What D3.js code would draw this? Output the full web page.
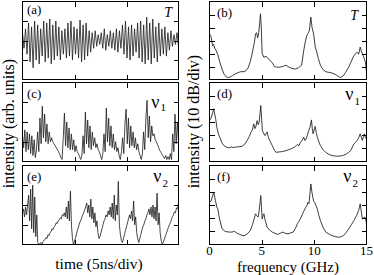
<!DOCTYPE html>
<html><head><meta charset="utf-8">
<script src="https://cdn.jsdelivr.net/npm/d3@7"></script>
<style>
body{margin:0;background:#fff}
svg{display:block}
text{font-family:"Liberation Serif","Times New Roman",serif;fill:#000}
</style>
</head><body><svg id="c" width="374" height="275"></svg>
<script>
// ---------- data ----------
const timeTicks = [5, 10];            // ns (5 ns / div)
const freqTicks = [0, 5, 10, 15];     // GHz
const freqInnerTicks = [5, 10];
const timeDivTicks = [1, 2, 3];       // arb. units divisions
const dbDivTicks = [1, 2, 3, 4, 5];   // 10 dB divisions

const seriesT = [
2.4,1.6,2.6,1.3,2.9,0.9,2.7,0.6,3.0,1.0,2.8,0.8,2.6,1.2,3.0,0.9,2.9,1.1,3.1,0.8,
2.8,1.0,3.0,1.2,2.7,1.0,2.5,1.3,2.6,1.1,2.9,1.2,3.0,1.0,2.7,1.3,2.6,1.1,3.05,0.9,
2.8,1.0,2.9,1.2,2.5,1.4,2.4,1.6,2.5,1.7,2.3,1.8,2.4,1.6,2.6,1.5,2.3,1.7,2.5,1.6,
2.4,1.5,2.6,1.4,2.5,1.6,2.8,1.3,3.0,1.1,2.7,1.0,2.8,1.2,2.6,1.4,2.9,1.1,3.0,0.9,
2.8,0.8,3.2,1.0,2.9,0.8,3.1,1.1,2.7,0.9,2.9,1.2,2.6,1.3,2.7,1.2,2.4,1.5,2.5,1.7,
2.3,1.8,2.4,1.7];

const seriesNu1 = [
1.3,0.7,1.6,0.5,1.5,0.6,1.4,0.4,1.3,0.3,1.1,0.2,0.6,
1.5,0.5,2.2,0.9,2.8,1.2,2.4,1.0,1.9,0.9,1.5,1.0,1.2,1.0,0.9,0.8,0.7,0.6,0.5,0.35,0.2,0.1,
1.2,2.45,0.8,2.0,0.7,1.7,0.6,1.4,0.6,1.1,0.5,0.8,0.5,0.4,0.25,0.1,0.3,
1.3,0.4,2.5,0.9,2.1,0.7,1.8,0.6,1.5,0.8,1.2,0.7,0.9,0.6,0.5,0.3,0.1,0.4,
1.4,0.5,2.7,1.0,2.2,0.8,1.8,0.7,1.4,0.6,1.0,0.5,0.7,0.3,0.1,0.5,
1.2,0.4,1.9,2.65,0.9,2.2,0.7,1.8,0.8,1.5,0.7,1.2,0.6,0.9,0.5,0.3,0.1,0.4,
1.5,0.6,2.2,3.1,1.2,2.3,1.0,1.8,1.3,1.4,1.1,1.0,0.85,0.7,0.55,0.45,0.35,0.25,0.15,0.3,0.1,0.25,0.1,0.4,0.1,
1.4,0.5,2.4,0.9,2.0,1.0];

const seriesNu2 = [
1.6,1.8,1.4,1.9,1.5,2.0,
2.5,1.2,2.8,0.8,3.0,0.6,2.4,0.4,1.5,0.1,0.0,
0.05,0.1,0.0,0.15,0.2,
0.25,0.35,0.3,0.5,0.45,0.6,0.65,0.8,0.75,0.9,0.95,1.1,1.05,1.2,1.25,1.35,1.3,1.5,1.45,
1.6,1.4,1.9,1.3,2.2,1.2,2.7,1.0,
0.3,0.0,
0.15,0.35,0.55,0.75,0.9,1.1,1.2,1.35,1.5,1.6,1.75,1.9,
2.1,1.6,2.0,1.4,2.3,1.3,1.9,1.1,1.6,0.9,1.2,0.6,0.3,
0.4,0.6,0.8,1.0,1.2,1.3,1.5,1.4,1.7,1.5,1.9,1.4,2.1,1.3,2.5,1.2,2.0,1.5,3.2,1.0,0.5,0.2,0.1,
0.3,0.5,0.7,0.9,1.1,1.3,1.5,1.3,1.7,1.2,2.2,1.0,1.4,0.6,0.3,0.1,
0.3,0.5,0.7,0.9,1.0,1.2,1.3,1.5,1.6,1.8,1.5,1.9,
1.4,2.0,1.3,1.9,1.2,2.6,1.0,1.6,0.6,0.2,0.0,
0.1,0.25,0.4,0.55,0.7,0.85,1.0,1.1,1.25,1.4,1.5,1.65,1.6,1.85,1.8,2.1];

const specT = [[0,3.5],[0.15,3.3],[0.3,2.6],[0.4,2.7],[0.5,2.4],[0.65,2.2],[0.8,1.9],[1.0,1.3],[1.2,0.8],[1.4,0.4],[1.6,0.2],[1.8,0.15],[2.0,0.2],[2.2,0.3],[2.5,0.45],[2.8,0.55],[3.0,0.6],[3.3,0.6],[3.5,0.7],[3.7,0.9],[3.9,1.4],[4.05,1.9],[4.2,2.5],[4.3,2.9],[4.4,3.5],[4.5,3.6],[4.6,3.2],[4.7,3.6],[4.8,4.4],[4.87,5.05],[4.95,4.0],[5.03,2.0],[5.2,1.7],[5.4,1.8],[5.6,1.6],[5.8,1.45],[6.0,1.3],[6.2,1.0],[6.4,0.95],[6.7,0.95],[7.0,1.0],[7.3,1.1],[7.6,0.95],[7.9,0.85],[8.2,0.8],[8.5,0.9],[8.8,1.1],[9.0,2.2],[9.15,2.9],[9.3,3.4],[9.45,3.6],[9.55,3.8],[9.68,4.8],[9.8,4.0],[9.95,3.5],[10.1,2.5],[10.25,2.1],[10.4,1.6],[10.6,1.1],[10.8,0.8],[11.1,0.6],[11.4,0.55],[11.7,0.5],[12.0,0.4],[12.2,0.3],[12.5,0.15],[12.8,0.3],[13.0,0.55],[13.3,0.95],[13.6,1.5],[13.8,1.85],[14.0,2.0],[14.1,2.1],[14.25,1.95],[14.4,2.5],[14.5,2.2],[14.7,1.8],[14.9,1.33],[15.0,0.56]];

const specNu1 = [[0,3.1],[0.15,3.3],[0.3,3.7],[0.4,4.0],[0.5,3.6],[0.6,3.2],[0.7,2.6],[0.85,2.1],[1.05,1.7],[1.2,1.4],[1.4,1.2],[1.6,1.1],[1.85,1.04],[2.1,1.1],[2.3,1.05],[2.5,1.1],[2.8,1.12],[3.1,1.15],[3.35,1.3],[3.6,1.6],[3.8,1.9],[3.95,2.2],[4.1,2.4],[4.23,2.86],[4.35,2.5],[4.45,2.7],[4.55,3.1],[4.65,2.8],[4.75,3.0],[4.9,4.25],[5.0,3.0],[5.05,2.35],[5.2,2.1],[5.3,1.97],[5.4,2.1],[5.5,2.25],[5.6,1.9],[5.75,1.6],[6.0,1.2],[6.2,0.85],[6.35,0.7],[6.6,0.72],[6.9,0.75],[7.2,0.8],[7.6,0.9],[7.9,1.0],[8.2,1.14],[8.4,1.3],[8.55,1.2],[8.7,1.47],[8.85,1.6],[9.0,1.85],[9.1,1.6],[9.2,1.65],[9.35,2.0],[9.48,2.35],[9.6,2.6],[9.74,3.16],[9.82,2.5],[9.9,2.1],[10.0,2.4],[10.1,2.66],[10.2,2.2],[10.3,1.85],[10.45,1.5],[10.6,1.2],[10.85,0.9],[11.1,0.7],[11.4,0.55],[11.7,0.45],[12.0,0.42],[12.35,0.4],[12.7,0.45],[13.0,0.53],[13.3,0.7],[13.5,0.84],[13.65,1.1],[13.8,1.34],[13.95,1.45],[14.1,1.6],[14.25,1.8],[14.4,2.1],[14.5,1.85],[14.6,1.6],[14.7,1.9],[14.8,2.1],[14.9,1.8],[15.0,1.72]];

const specNu2 = [[0,3.2],[0.15,3.3],[0.3,3.7],[0.4,3.97],[0.5,3.6],[0.57,3.34],[0.7,2.83],[0.8,2.7],[0.9,2.2],[1.0,1.82],[1.2,1.19],[1.5,0.99],[1.8,0.95],[2.1,0.94],[2.4,0.99],[2.65,0.85],[2.9,0.76],[3.1,0.7],[3.3,0.66],[3.6,0.8],[3.9,1.06],[4.1,1.5],[4.25,1.9],[4.4,2.33],[4.5,2.2],[4.65,2.08],[4.75,2.6],[4.9,3.72],[4.97,2.8],[5.03,1.95],[5.12,2.2],[5.2,2.33],[5.3,1.9],[5.5,1.32],[5.75,1.1],[6.0,0.94],[6.25,0.85],[6.5,0.76],[6.75,0.85],[7.0,0.94],[7.25,0.85],[7.5,0.81],[7.75,0.88],[8.0,0.94],[8.2,1.2],[8.4,1.57],[8.65,1.9],[8.9,2.33],[9.05,2.6],[9.2,2.83],[9.3,2.95],[9.4,3.2],[9.5,3.1],[9.6,3.9],[9.68,4.6],[9.78,4.0],[9.87,3.6],[9.95,3.3],[10.05,3.2],[10.15,3.0],[10.3,2.7],[10.45,2.2],[10.6,1.82],[10.85,1.3],[11.1,0.94],[11.4,0.8],[11.7,0.68],[12.0,0.6],[12.35,0.55],[12.6,0.6],[12.8,0.68],[13.05,0.9],[13.3,1.19],[13.55,1.5],[13.8,1.82],[14.05,2.2],[14.25,2.58],[14.4,3.09],[14.5,2.5],[14.6,1.95],[14.75,2.05],[14.85,2.08],[14.95,1.8],[15.0,1.57]];

const panelLetters = ["(a)", "(b)", "(c)", "(d)", "(e)", "(f)"];
const variableNames = ["T", "ν", "ν"];
const variableSubs = ["", "1", "2"];

// ---------- layout ----------
const svg = d3.select("#c");
const LX = [22.5, 178.5], RX = [209.5, 366.5];
const rows = [[1.5, 79.5], [82.5, 161.5], [165.5, 244.5]];
const timeSeries = [seriesT, seriesNu1, seriesNu2];
const spectra = [specT, specNu1, specNu2];

function frame(g, x0, x1, y0, y1) {
  g.append("rect").attr("x", x0).attr("y", y0).attr("width", x1 - x0).attr("height", y1 - y0)
    .attr("fill", "none").attr("stroke", "#000").attr("stroke-width", 1).attr("shape-rendering", "crispEdges");
}
function axes(g, x, y, xt, yt, y0, y1, x0, x1) {
  const style = s => { s.select(".domain").remove(); s.selectAll("text").remove();
    s.selectAll("line").attr("stroke", "#000").attr("shape-rendering", "crispEdges"); };
  g.append("g").attr("transform", `translate(0,${y1})`).call(d3.axisBottom(x).tickValues(xt).tickSize(-5)).call(style);
  g.append("g").attr("transform", `translate(0,${y0})`).call(d3.axisTop(x).tickValues(xt).tickSize(-5)).call(style);
  g.append("g").attr("transform", `translate(${x0},0)`).call(d3.axisLeft(y).tickValues(yt).tickSize(-5)).call(style);
  g.append("g").attr("transform", `translate(${x1},0)`).call(d3.axisRight(y).tickValues(yt).tickSize(-5)).call(style);
}

rows.forEach(([y0, y1], r) => {
  // time panel
  const gL = svg.append("g");
  const xT = d3.scaleLinear().domain([0, 15]).range(LX);
  const yT = d3.scaleLinear().domain([0, 4]).range([y1, y0]);
  const data = timeSeries[r];
  const n = data.length;
  gL.append("path").datum(data)
    .attr("d", d3.line().x((d, i) => xT(i * 15 / (n - 1))).y(d => yT(d)))
    .attr("fill", "none").attr("stroke", "#1a1a1a").attr("stroke-width", 0.8).attr("stroke-linejoin", "round");
  axes(gL, xT, yT, timeTicks, timeDivTicks, y0, y1, LX[0], LX[1]);
  frame(gL, LX[0], LX[1], y0, y1);

  // spectrum panel
  const gR = svg.append("g");
  const xF = d3.scaleLinear().domain([0, 15]).range(RX);
  const yF = d3.scaleLinear().domain([0, 6]).range([y1, y0]);
  gR.append("path").datum(spectra[r])
    .attr("d", d3.line().x(d => xF(d[0])).y(d => yF(d[1])))
    .attr("fill", "none").attr("stroke", "#1a1a1a").attr("stroke-width", 0.85).attr("stroke-linejoin", "round");
  axes(gR, xF, yF, freqInnerTicks, dbDivTicks, y0, y1, RX[0], RX[1]);
  frame(gR, RX[0], RX[1], y0, y1);

  if (r === 2) {
    gR.selectAll("text.tl").data(freqTicks).join("text").attr("class", "tl")
      .attr("x", d => xF(d)).attr("y", 255).attr("text-anchor", "middle")
      .style("font-size", "13px").text(d => d);
  }
});

// panel letters
const letterPos = [[27, 14], [217, 17], [27, 98], [217, 98], [27, 181], [217, 181]];
panelLetters.forEach((t, i) => {
  svg.append("text").attr("x", letterPos[i][0]).attr("y", letterPos[i][1])
    .style("font-size", "13px").text(t);
});

// variable labels
const varPos = [ // [x right, baseline, subscript dy] for left then right
  [[172, 17, 0], [358, 20, 0]],
  [[166, 108, 3], [360, 100, 5]],
  [[168, 182, 5], [358, 182, 5]]
];
variableNames.forEach((name, r) => {
  varPos[r].forEach(([x, y, dy]) => {
    const t = svg.append("text").attr("x", x).attr("y", y).attr("text-anchor", "end");
    if (r === 0) {
      t.style("font-size", "14px").style("font-style", "italic").text(name);
    } else {
      t.append("tspan").style("font-size", "18px").text(name);
      t.append("tspan").attr("dy", dy).attr("dx", 1).style("font-size", "11px").text(variableSubs[r]);
    }
  });
});

// axis titles
svg.append("text").attr("transform", "translate(14,123.5) rotate(-90)").attr("text-anchor", "middle")
  .style("font-size", "16px").text("intensity (arb. units)");
svg.append("text").attr("transform", "translate(199,121.5) rotate(-90)").attr("text-anchor", "middle")
  .style("font-size", "16px").text("intensity (10 dB/div)");
svg.append("text").attr("x", 99).attr("y", 269).attr("text-anchor", "middle")
  .style("font-size", "15.5px").text("time (5ns/div)");
svg.append("text").attr("x", 288).attr("y", 271.5).attr("text-anchor", "middle")
  .style("font-size", "15px").text("frequency (GHz)");
</script>
</body></html>
